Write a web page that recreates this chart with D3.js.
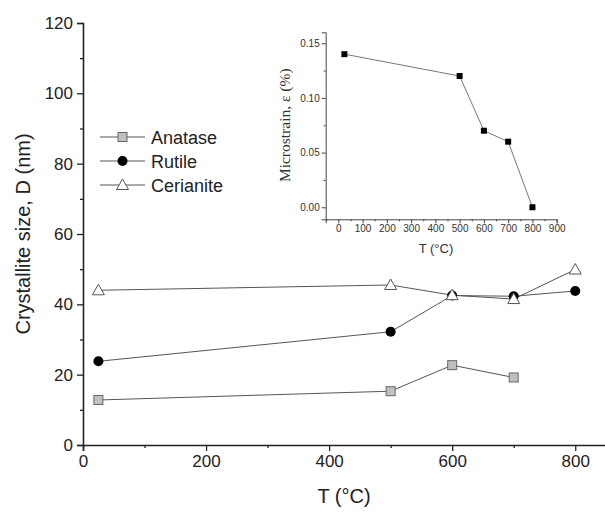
<!DOCTYPE html>
<html><head><meta charset="utf-8">
<script src="https://cdn.jsdelivr.net/npm/d3@7"></script>
<style>body{margin:0;background:#fff}svg{display:block}</style>
</head><body>
<script>
const temps = [25, 500, 600, 700, 800];
const anatase = [12.8, 15.3, 22.7, 19.2];
const rutile = [23.8, 32.2, 42.5, 42.3, 43.8];
const cerianite = [44.0, 45.5, 42.6, 41.5, 49.9];
const strain = [0.14, 0.12, 0.07, 0.06, 0.0];
const mainXTicks = [0, 200, 400, 600, 800];
const mainYTicks = [0, 20, 40, 60, 80, 100, 120];
const insetXTicks = [0, 100, 200, 300, 400, 500, 600, 700, 800, 900];
const insetYTicks = [0.00, 0.05, 0.10, 0.15];
const legendNames = ["Anatase", "Rutile", "Cerianite"];

const W = 605, H = 513;
const svg = d3.select("body").append("svg").attr("width", W).attr("height", H);
const font = "'Liberation Sans', Arial, sans-serif";
const lineCol = "#555";

// main scales
const x = d3.scaleLinear().domain([0, 850]).range([83, 606]);
const y = d3.scaleLinear().domain([0, 120]).range([445, 23]);

svg.append("g").attr("transform", `translate(0,${y(0)})`)
  .call(d3.axisBottom(x).tickValues(mainXTicks).tickSize(6).tickPadding(4).tickFormat(d3.format("d")));
svg.append("g").attr("transform", `translate(0,${y(0)})`)
  .call(d3.axisBottom(x).tickValues([100, 300, 500, 700]).tickSize(3).tickFormat(""))
  .select(".domain").remove();
svg.append("g").attr("transform", `translate(${x(0)},0)`)
  .call(d3.axisLeft(y).tickValues(mainYTicks).tickSize(6).tickPadding(4));
svg.append("g").attr("transform", `translate(${x(0)},0)`)
  .call(d3.axisLeft(y).tickValues([10, 30, 50, 70, 90, 110]).tickSize(3).tickFormat(""))
  .select(".domain").remove();
svg.selectAll(".domain").attr("stroke", "#222").attr("stroke-width", 1.6);
svg.selectAll(".tick line").attr("stroke", "#222").attr("stroke-width", 1.3);
svg.selectAll(".tick text").attr("font-family", font).attr("font-size", 17).attr("fill", "#222");

svg.append("text").attr("x", 344).attr("y", 503).attr("text-anchor", "middle")
  .attr("font-family", font).attr("font-size", 20).attr("fill", "#222").text("T (°C)");
svg.append("text").attr("transform", `translate(30,${y(60)}) rotate(-90)`).attr("text-anchor", "middle")
  .attr("font-family", font).attr("font-size", 20).attr("fill", "#222").text("Crystallite size, D (nm)");

const line = d3.line().x(d => x(d[0])).y(d => y(d[1]));
function series(vals) { return vals.map((v, i) => [temps[i], v]); }
const sets = [series(anatase), series(rutile), series(cerianite)];
sets.forEach(s => svg.append("path").attr("d", line(s)).attr("fill", "none").attr("stroke", lineCol).attr("stroke-width", 1));

function marker(g, type, cx, cy) {
  if (type === 0) g.append("rect").attr("x", cx - 4.5).attr("y", cy - 4.5).attr("width", 9).attr("height", 9)
    .attr("fill", "#c0c0c0").attr("stroke", "#666").attr("stroke-width", 1);
  else if (type === 1) g.append("circle").attr("cx", cx).attr("cy", cy).attr("r", 5).attr("fill", "#000");
  else g.append("path").attr("d", `M${cx},${cy - 6}L${cx + 6},${cy + 4.5}L${cx - 6},${cy + 4.5}Z`)
    .attr("fill", "#fff").attr("stroke", "#555").attr("stroke-width", 1);
}
sets.forEach((s, k) => s.forEach(d => marker(svg, k, x(d[0]), y(d[1]))));

// legend
legendNames.forEach((n, i) => {
  const ly = 137 + i * 24;
  svg.append("line").attr("x1", 100).attr("x2", 145).attr("y1", ly).attr("y2", ly).attr("stroke", lineCol).attr("stroke-width", 1);
  marker(svg, i, 122.5, ly);
  svg.append("text").attr("x", 151).attr("y", ly + 6.5).attr("font-family", font).attr("font-size", 18).attr("fill", "#222").text(n);
});

// inset
const ix = d3.scaleLinear().domain([-52, 900]).range([325.7, 556.7]);
const iy = d3.scaleLinear().domain([-0.011, 0.16]).range([219.3, 32.3]);
const ig = svg.append("g");
ig.append("g").attr("transform", `translate(0,${iy.range()[0]})`)
  .call(d3.axisBottom(ix).tickValues(insetXTicks).tickSize(4).tickPadding(2).tickFormat(d3.format("d")));
ig.append("g").attr("transform", `translate(0,${iy.range()[0]})`)
  .call(d3.axisBottom(ix).tickValues(d3.range(-50, 900, 100)).tickSize(2).tickFormat(""))
  .select(".domain").remove();
ig.append("g").attr("transform", `translate(${ix.range()[0]},0)`)
  .call(d3.axisLeft(iy).tickValues(insetYTicks).tickSize(4).tickPadding(2).tickFormat(d3.format(".2f")));
ig.append("g").attr("transform", `translate(${ix.range()[0]},0)`)
  .call(d3.axisLeft(iy).tickValues([0.025, 0.075, 0.125]).tickSize(2).tickFormat(""))
  .select(".domain").remove();
ig.selectAll(".domain").attr("stroke", "#444").attr("stroke-width", 1);
ig.selectAll(".tick line").attr("stroke", "#444").attr("stroke-width", 1);
ig.selectAll(".tick text").attr("font-family", font).attr("font-size", 10).attr("fill", "#333");
ig.append("text").attr("x", 436).attr("y", 253).attr("text-anchor", "middle")
  .attr("font-family", font).attr("font-size", 13).attr("fill", "#333").text("T (°C)");
ig.append("text").attr("transform", `translate(290,${iy(0.075)}) rotate(-90)`).attr("text-anchor", "middle")
  .attr("font-family", "'Liberation Serif', 'Times New Roman', serif").attr("font-size", 15.5).attr("fill", "#333").text("Microstrain, ε (%)");
const iline = d3.line().x((d, i) => ix(temps[i])).y(d => iy(d));
ig.append("path").attr("d", iline(strain)).attr("fill", "none").attr("stroke", "#777").attr("stroke-width", 1);
strain.forEach((v, i) => ig.append("rect").attr("x", ix(temps[i]) - 3).attr("y", iy(v) - 3).attr("width", 6).attr("height", 6).attr("fill", "#000"));
</script>
</body></html>
